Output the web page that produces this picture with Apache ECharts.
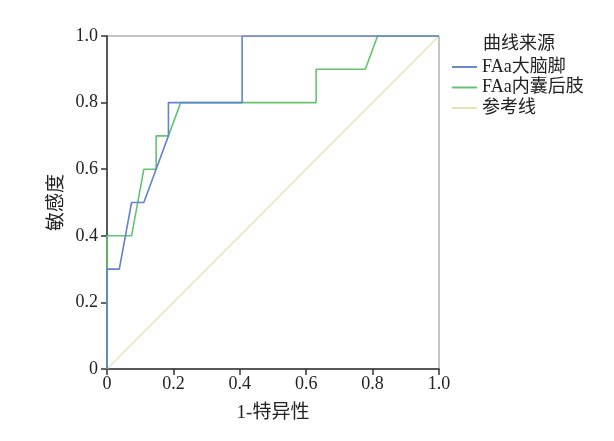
<!DOCTYPE html>
<html><head><meta charset="utf-8">
<script src="https://cdn.jsdelivr.net/npm/echarts@6/dist/echarts.min.js"></script>
<style>html,body{margin:0;padding:0;background:#fff}#c{width:614px;height:441px}</style>
</head><body><div id="c"></div>
<script>
const seriesNames = ['FAa大脑脚', 'FAa内囊后肢', '参考线'];
const legendTitle = '曲线来源';
const xName = '1-特异性';
const yName = '敏感度';
const tickValues = [0, 0.2, 0.4, 0.6, 0.8, 1.0];
// [1-specificity, sensitivity]
const curveBrainPeduncle = [[0,0],[0,0.3],[0.037,0.3],[0.074,0.5],[0.111,0.5],[0.185,0.7],[0.185,0.8],[0.407,0.8],[0.407,1.0],[1,1]];
const curveInternalCapsule = [[0,0],[0,0.4],[0.074,0.4],[0.111,0.6],[0.148,0.6],[0.148,0.7],[0.185,0.7],[0.222,0.8],[0.630,0.8],[0.630,0.9],[0.778,0.9],[0.815,1.0],[1,1]];
const referenceLine = [[0,0],[1,1]];

const colors = ['#6283cf', '#62c46e', '#e6e0b2'];
const serif = '"Liberation Serif","Noto Sans CJK SC",serif';
const cjk = '"Noto Sans CJK SC",sans-serif';
const fmt = v => v === 0 ? '0' : v.toFixed(1);

const chart = echarts.init(document.getElementById('c'));
chart.setOption({
  animation: false,
  backgroundColor: '#fff',
  grid: { left: 107, right: 175, top: 36, bottom: 72, show: true, borderColor: '#8a8a8a', borderWidth: 1 },
  xAxis: {
    type: 'value', min: 0, max: 1, interval: 0.2,
    name: xName, nameLocation: 'middle', nameGap: 35,
    nameTextStyle: { fontSize: 19, color: '#222', fontFamily: serif },
    axisLine: { show: true, lineStyle: { color: '#333', width: 1.5 } },
    axisTick: { show: true, length: 6, lineStyle: { color: '#333', width: 1.5 } },
    axisLabel: { formatter: fmt, fontSize: 18, color: '#222', fontFamily: serif, margin: 6 },
    splitLine: { show: false }
  },
  yAxis: {
    type: 'value', min: 0, max: 1, interval: 0.2,
    name: yName, nameLocation: 'middle', nameGap: 38, nameRotate: 90,
    nameTextStyle: { fontSize: 19, color: '#222', fontFamily: cjk },
    axisLine: { show: true, lineStyle: { color: '#333', width: 1.5 } },
    axisTick: { show: true, length: 6, lineStyle: { color: '#333', width: 1.5 } },
    axisLabel: { formatter: fmt, fontSize: 18, color: '#222', fontFamily: serif, margin: 9 },
    splitLine: { show: false }
  },
  legend: {
    orient: 'vertical', left: 447, top: 53, itemGap: 2.5,
    itemWidth: 25, itemHeight: 14, icon: 'path://M0,6 L26,6 L26,8 L0,8 Z',
    data: seriesNames,
    textStyle: { fontSize: 18, color: '#222', fontFamily: serif }
  },
  graphic: [{
    type: 'text', left: 483, top: 33,
    style: { text: legendTitle, fontSize: 18, fill: '#222', fontFamily: cjk }
  }],
  series: [
    { name: seriesNames[2], type: 'line', data: referenceLine, symbol: 'none', z: 1,
      lineStyle: { color: colors[2], width: 1.2 }, itemStyle: { color: colors[2] } },
    { name: seriesNames[1], type: 'line', data: curveInternalCapsule, symbol: 'none', z: 2,
      lineStyle: { color: colors[1], width: 1.6 }, itemStyle: { color: colors[1] } },
    { name: seriesNames[0], type: 'line', data: curveBrainPeduncle, symbol: 'none', z: 3,
      lineStyle: { color: colors[0], width: 1.6 }, itemStyle: { color: colors[0] } }
  ]
});
</script></body></html>
